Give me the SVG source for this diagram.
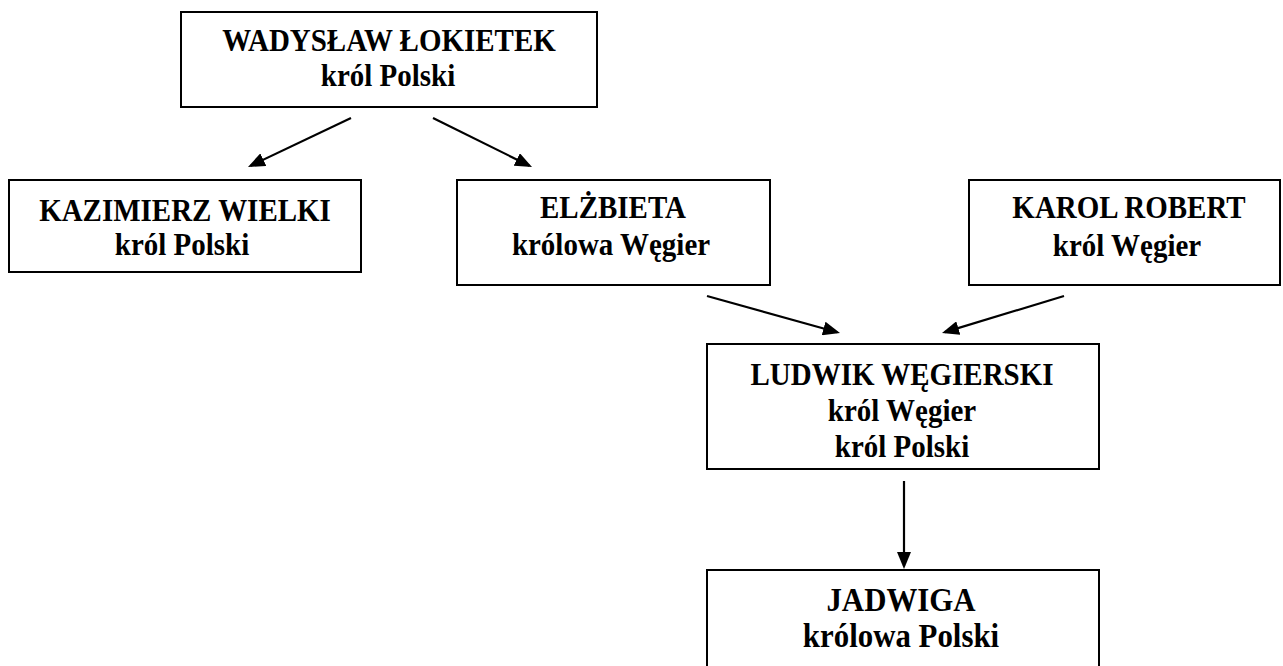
<svg xmlns="http://www.w3.org/2000/svg" width="1283" height="666" viewBox="0 0 1283 666">
<style>
.box{fill:#fff;stroke:#000;stroke-width:2}
.t{font-family:"Liberation Serif","Times New Roman",serif;font-weight:bold;font-size:31px;fill:#000;text-anchor:middle}
.big{font-size:33px}
.c{stroke:#000;stroke-width:2.2;fill:none}
</style>
<defs>
<marker id="ah" viewBox="0 0 17 14" refX="14" refY="7" markerWidth="17" markerHeight="14" markerUnits="userSpaceOnUse" orient="auto">
<path d="M0,0 L17,7 L0,14 Z" fill="#000"/>
</marker>
</defs>
<rect width="1283" height="666" fill="#fff"/>
<g id="connectors">
<path class="c" d="M351,118 L250.7,165.7" marker-end="url(#ah)"/>
<path class="c" d="M433,118 L529.3,165.7" marker-end="url(#ah)"/>
<path class="c" d="M707,296 L837.1,332.2" marker-end="url(#ah)"/>
<path class="c" d="M1064,296 L944.9,332.1" marker-end="url(#ah)"/>
<path class="c" d="M904,481 L904,566" marker-end="url(#ah)"/>
</g>
<g id="lokietek">
<rect class="box" x="181" y="12" width="416" height="95"/>
<text class="t" transform="translate(389,51) scale(0.935,1)">WADYSŁAW ŁOKIETEK</text>
<text class="t" transform="translate(388,86) scale(0.935,1)">król Polski</text>
</g>
<g id="kazimierz">
<rect class="box" x="9" y="180" width="352" height="92"/>
<text class="t" transform="translate(185,221) scale(0.935,1)">KAZIMIERZ WIELKI</text>
<text class="t" transform="translate(182,255) scale(0.935,1)">król Polski</text>
</g>
<g id="elzbieta">
<rect class="box" x="457" y="180" width="313" height="105"/>
<text class="t" transform="translate(613,218) scale(0.935,1)">ELŻBIETA</text>
<text class="t" transform="translate(611,255) scale(0.935,1)">królowa Węgier</text>
</g>
<g id="karol">
<rect class="box" x="969" y="180" width="311" height="105"/>
<text class="t" transform="translate(1129,218) scale(0.935,1)">KAROL ROBERT</text>
<text class="t" transform="translate(1127,256) scale(0.935,1)">król Węgier</text>
</g>
<g id="ludwik">
<rect class="box" x="707" y="344" width="392" height="125"/>
<text class="t" transform="translate(902,385) scale(0.935,1)">LUDWIK WĘGIERSKI</text>
<text class="t" transform="translate(902,421) scale(0.935,1)">król Węgier</text>
<text class="t" transform="translate(902,457) scale(0.935,1)">król Polski</text>
</g>
<g id="jadwiga">
<rect class="box" x="707" y="570" width="392" height="110"/>
<text class="t big" transform="translate(901,611) scale(0.935,1)">JADWIGA</text>
<text class="t big" transform="translate(901,647) scale(0.935,1)">królowa Polski</text>
</g>
</svg>
